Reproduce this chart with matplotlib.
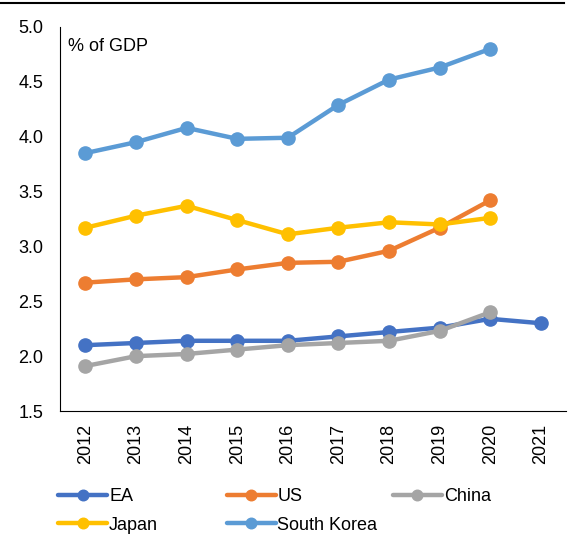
import matplotlib.pyplot as plt
from matplotlib.lines import Line2D

plt.rcParams['font.family'] = ['Liberation Sans', 'DejaVu Sans']

years = [2012, 2013, 2014, 2015, 2016, 2017, 2018, 2019, 2020, 2021]
ea = [2.10, 2.12, 2.14, 2.14, 2.14, 2.18, 2.22, 2.26, 2.34, 2.30]
us = [2.67, 2.70, 2.72, 2.79, 2.85, 2.86, 2.96, 3.17, 3.42]
china = [1.91, 2.00, 2.02, 2.06, 2.10, 2.12, 2.14, 2.23, 2.40]
japan = [3.17, 3.28, 3.37, 3.24, 3.11, 3.17, 3.22, 3.20, 3.26]
korea = [3.85, 3.95, 4.08, 3.98, 3.99, 4.29, 4.52, 4.63, 4.80]

series = [
    ('EA', ea, '#4472C4'),
    ('US', us, '#ED7D31'),
    ('China', china, '#A5A5A5'),
    ('Japan', japan, '#FFC000'),
    ('South Korea', korea, '#5B9BD5'),
]

fig = plt.figure(figsize=(5.73, 5.38), dpi=100)
ax = fig.add_axes([0.105, 0.236, 0.883, 0.714])

handles = {}
for name, vals, col in series:
    h, = ax.plot(years[:len(vals)], vals, color=col, lw=3.2, marker='o',
                 markersize=9.5, solid_capstyle='round')
    handles[name] = h

ax.set_xlim(2011.5, 2021.5)
ax.set_ylim(1.5, 5.0)
ax.set_xticks(years)
ax.set_xticklabels([str(y) for y in years], rotation=90, fontsize=13)
ax.set_yticks([1.5, 2.0, 2.5, 3.0, 3.5, 4.0, 4.5, 5.0])
ax.set_yticklabels(['%.1f' % v for v in ax.get_yticks()], fontsize=13)
ax.tick_params(axis='both', length=0)
ax.tick_params(axis='x', pad=9)
ax.tick_params(axis='y', pad=12)
for s in ['top', 'right']:
    ax.spines[s].set_visible(False)
ax.spines['left'].set_linewidth(0.8)
ax.spines['bottom'].set_linewidth(0.8)

ax.text(0.015, 0.97, '% of GDP', transform=ax.transAxes, fontsize=13,
        va='top', ha='left')

# black rule across the top
fig.add_artist(Line2D([0.0, 0.985], [0.994, 0.994], color='black', lw=1.5,
                      transform=fig.transFigure))

cols = [(['EA', 'Japan'], 0.102), (['US', 'South Korea'], 0.396), (['China'], 0.686)]
for names, x in cols:
    leg = fig.legend([handles[n] for n in names], names, loc='upper left',
                     bbox_to_anchor=(x, 0.093), frameon=False, fontsize=13,
                     handlelength=2.7, handletextpad=0.1, labelspacing=0.65,
                     borderaxespad=0, borderpad=0, markerscale=0.8)

fig.savefig('out.png', dpi=100)
